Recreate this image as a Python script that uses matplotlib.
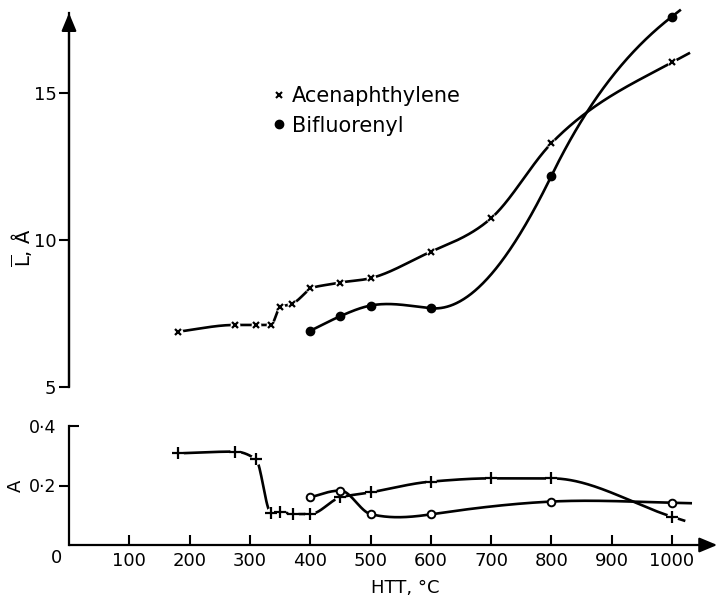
import numpy as np
import matplotlib
matplotlib.use("Agg")
import matplotlib.pyplot as plt
from matplotlib.lines import Line2D

# ---------------- data ----------------
# Top panel: mean layer size L (Angstrom)
acen_L_T = [180, 275, 310, 335, 350, 370, 400, 450, 500, 600, 700, 800, 1000]
acen_L = [6.88, 7.11, 7.11, 7.11, 7.71, 7.83, 8.36, 8.55, 8.70, 9.60, 10.74, 13.29, 16.04]
# drawn-curve slopes (per degC), for T >= 400
acen_L_slope_hi = [0.006, 0.004, 0.005, 0.009, 0.018, 0.021, 0.011]

bifl_L_T = [400, 450, 500, 600, 800, 1000]
bifl_L = [6.91, 7.41, 7.77, 7.68, 12.18, 17.60]
bifl_L_slope = [0.010, 0.009, 0.004, -0.002, 0.042, 0.016]

# Bottom panel: A
acen_A_T = [180, 275, 310, 335, 350, 372, 400, 450, 500, 600, 700, 800, 1000]
acen_A = [0.308, 0.314, 0.288, 0.109, 0.111, 0.104, 0.104, 0.160, 0.177, 0.213, 0.224, 0.224, 0.095]
bifl_A_T = [400, 450, 500, 600, 800, 1000]
bifl_A = [0.160, 0.183, 0.104, 0.103, 0.146, 0.142]
bifl_A_slope = [0.0006, 0.0, -0.0005, 0.0003, 0.0001, -0.00005]

x_ticks = [100, 200, 300, 400, 500, 600, 700, 800, 900, 1000]
L_ticks = [5, 10, 15]
A_ticks = [0.2, 0.4]
A_ticklabels = ["0·2", "0·4"]


# ---------------- curve helpers (rendering only) ----------------
def hermite(x, y, m, xs):
    x = np.asarray(x, float); y = np.asarray(y, float); m = np.asarray(m, float)
    xs = np.asarray(xs, float)
    h = np.diff(x)
    out = np.empty_like(xs)
    for i, xv in enumerate(xs):
        if xv <= x[0]:
            out[i] = y[0] + m[0] * (xv - x[0]); continue
        if xv >= x[-1]:
            out[i] = y[-1] + m[-1] * (xv - x[-1]); continue
        k = np.searchsorted(x, xv) - 1
        t = (xv - x[k]) / h[k]
        h00 = 2 * t**3 - 3 * t**2 + 1; h10 = t**3 - 2 * t**2 + t
        h01 = -2 * t**3 + 3 * t**2; h11 = t**3 - t**2
        out[i] = h00 * y[k] + h10 * h[k] * m[k] + h01 * y[k + 1] + h11 * h[k] * m[k + 1]
    return out


def pchip(x, y, xs):
    x = np.asarray(x, float); y = np.asarray(y, float)
    h = np.diff(x); d = np.diff(y) / h
    m = np.zeros_like(y)
    for k in range(1, len(x) - 1):
        if d[k - 1] * d[k] <= 0:
            m[k] = 0.0
        else:
            w1 = 2 * h[k] + h[k - 1]; w2 = h[k] + 2 * h[k - 1]
            m[k] = (w1 + w2) / (w1 / d[k - 1] + w2 / d[k])
    m[0] = d[0]; m[-1] = d[-1]
    return hermite(x, y, m, xs)


# ---------------- figure ----------------
W, H = 717, 602
fig = plt.figure(figsize=(W / 100, H / 100), dpi=100)
plt.rcParams['font.family'] = ['DejaVu Sans']

x0_px = 69
xmax = 1075
px_per_T = 0.603
ax_w = xmax * px_per_T

top_bot_px, top_top_px = 387, 13
L_top = 5 + (top_bot_px - top_top_px) / 29.4
axT = fig.add_axes([x0_px / W, (H - top_bot_px) / H, ax_w / W, (top_bot_px - top_top_px) / H])
axT.set_xlim(0, xmax)
axT.set_ylim(5, L_top)

bot_bot_px, bot_top_px = 545, 426
axB = fig.add_axes([x0_px / W, (H - bot_bot_px) / H, ax_w / W, (bot_bot_px - bot_top_px) / H])
axB.set_xlim(0, xmax)
axB.set_ylim(0, 0.4)

lw = 1.9
for ax in (axT, axB):
    for s in ('top', 'right', 'bottom'):
        ax.spines[s].set_visible(False)
    ax.spines['left'].set_linewidth(1.6)
    ax.patch.set_visible(False)

# top panel curves
T_a = np.asarray(acen_L_T, float); L_a = np.asarray(acen_L, float)
lo = T_a <= 400
hi = T_a >= 400
xs_lo = np.linspace(180, 400, 300)
xs_hi = np.linspace(400, 1028, 500)
axT.plot(xs_lo, pchip(T_a[lo], L_a[lo], xs_lo), color='k', lw=lw, clip_on=False, zorder=2)
axT.plot(xs_hi, hermite(T_a[hi], L_a[hi], acen_L_slope_hi, xs_hi),
         color='k', lw=lw, clip_on=False, zorder=2)
xs2 = np.linspace(400, 1013, 600)
axT.plot(xs2, hermite(bifl_L_T, bifl_L, bifl_L_slope, xs2), color='k', lw=lw, clip_on=False, zorder=2)
axT.plot(acen_L_T, acen_L, ls='none', marker='o', ms=7, mfc='white', mec='none', zorder=3, clip_on=False)
axT.plot(acen_L_T, acen_L, ls='none', marker='x', ms=5, mew=1.6, color='k', zorder=4, clip_on=False)
axT.plot(bifl_L_T, bifl_L, ls='none', marker='o', ms=6, color='k', zorder=4, clip_on=False)

# bottom panel curves
xs3 = np.linspace(180, 1020, 600)
axB.plot(xs3, pchip(acen_A_T, acen_A, xs3), color='k', lw=lw, clip_on=False, zorder=2)
xs4 = np.linspace(400, 1031, 600)
axB.plot(xs4, hermite(bifl_A_T, bifl_A, bifl_A_slope, xs4), color='k', lw=lw, clip_on=False, zorder=2)
axB.plot(acen_A_T, acen_A, ls='none', marker='o', ms=8, mfc='white', mec='none', zorder=3, clip_on=False)
axB.plot(acen_A_T, acen_A, ls='none', marker='+', ms=8, mew=1.6, color='k', zorder=4, clip_on=False)
axB.plot(bifl_A_T, bifl_A, ls='none', marker='o', ms=5.5, mfc='white', mec='k', mew=1.4, zorder=4, clip_on=False)

# axis arrows
axT.annotate('', xy=(0, L_top), xytext=(0, 5), xycoords='data',
             arrowprops=dict(arrowstyle='-|>,head_length=0.6,head_width=0.25', lw=1.6, color='k',
                             mutation_scale=18, shrinkA=0, shrinkB=0), annotation_clip=False)
axB.annotate('', xy=(xmax, 0), xytext=(0, 0), xycoords='data',
             arrowprops=dict(arrowstyle='-|>,head_length=0.6,head_width=0.25', lw=1.6, color='k',
                             mutation_scale=18, shrinkA=0, shrinkB=0), annotation_clip=False)

# ticks
axT.set_xticks([])
axT.set_yticks(L_ticks)
axT.set_yticklabels([str(t) for t in L_ticks])
axT.tick_params(axis='y', direction='out', length=7, width=1.5, labelsize=13, pad=2)

axB.set_xticks(x_ticks)
axB.set_xticklabels([str(t) for t in x_ticks])
axB.tick_params(axis='x', direction='in', length=7, width=1.5, labelsize=13, pad=5,
                bottom=True)
axB.set_yticks(A_ticks)
axB.set_yticklabels(A_ticklabels)
axB.tick_params(axis='y', direction='out', length=7, width=1.5, labelsize=12.5, pad=2)
tks = axB.yaxis.get_major_ticks()
tks[1].tick1line.set_marker(matplotlib.lines.TICKRIGHT)

fig.text(57 / W, (H - 558) / H, '0', ha='center', va='center', fontsize=13)

# axis labels
fig.text(405 / W, (H - 588) / H, 'HTT, °C', ha='center', va='center', fontsize=13)
fig.text(16 / W, (H - 486) / H, 'A', ha='center', va='center', fontsize=13, rotation=90)
fig.text(21 / W, (H - 248) / H, r'$\overline{\mathrm{L}}$, Å', ha='center', va='center',
         fontsize=14, rotation=90)

# legend
handles = [Line2D([], [], ls='none', marker='x', ms=5, mew=1.5, color='k'),
           Line2D([], [], ls='none', marker='o', ms=6, color='k')]
fig.legend(handles, ['Acenaphthylene', 'Bifluorenyl'], loc='upper left',
           bbox_to_anchor=(262 / W, (H - 76) / H), frameon=False, fontsize=15,
           handlelength=0.6, handletextpad=0.35, labelspacing=0.45, borderpad=0)

fig.savefig('out.png', dpi=100)
